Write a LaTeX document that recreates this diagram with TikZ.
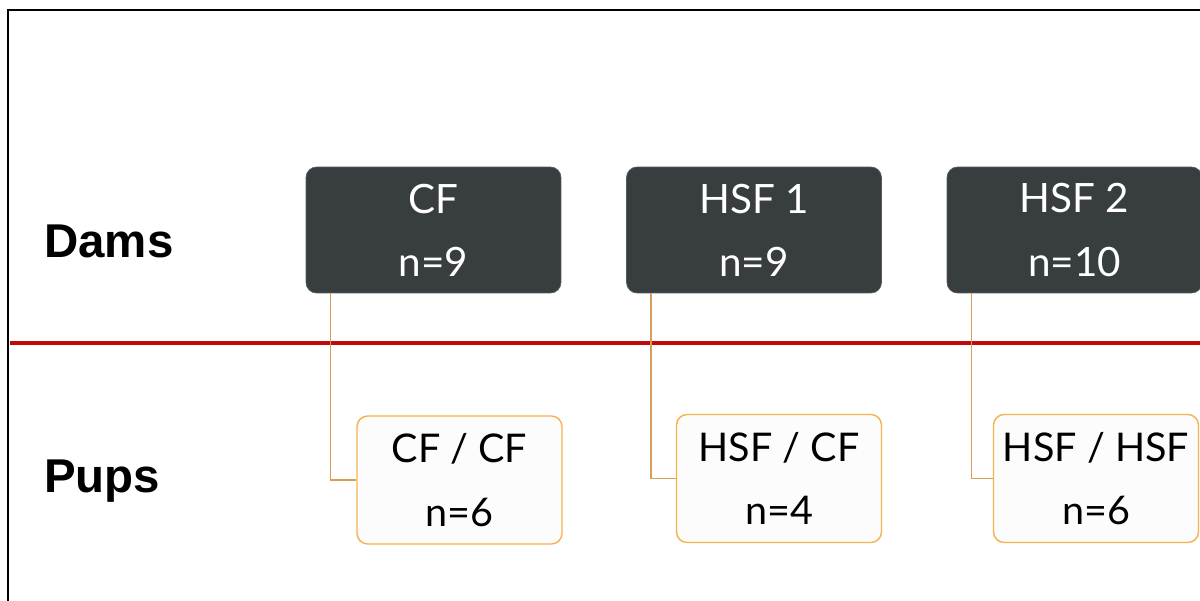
\documentclass[tikz,border=0pt]{standalone}
\usepackage{fontspec}
\setmainfont{Lato}
\newfontfamily\groupfont{Liberation Sans}
\usetikzlibrary{positioning}
\definecolor{damgray}{RGB}{56,61,63}
\definecolor{pupedge}{RGB}{245,178,78}
\definecolor{linkorange}{RGB}{214,158,88}
\definecolor{splitred}{RGB}{194,8,8}
\tikzset{
    dam/.style={
    rectangle,rounded corners=6pt,draw=damgray!85!white,fill=damgray,text=white,
    minimum width=5.1cm,minimum height=2.52cm,inner sep=0pt,align=center,
    font=\fontsize{23}{36}\selectfont
    },
    pup/.style={
    rectangle,rounded corners=6pt,draw=pupedge,fill=black!1,line width=0.8pt,
    minimum width=4.1cm,minimum height=2.56cm,inner sep=0pt,align=center,
    font=\fontsize{22.5}{36}\selectfont
    },
    group/.style={
    anchor=base west,inner sep=0pt,font=\groupfont\bfseries\fontsize{27}{32}\selectfont
    },
    link/.style={
    draw=linkorange,line width=0.85pt
    },
}

\begin{document}
\begin{tikzpicture}[x=0.02cm, y=-0.02cm]
   \useasboundingbox (0,0) rectangle (1200,601);
   \clip (0,0) rectangle (1200,601);
   \draw[line width=1.6pt] (8,700) |- (1300,10);

   %groups
   \node[group] (dams) at (44,257) {Dams};
   \node[group] (pups) at (44,492) {Pups};

   %dams
   \node[dam] (damcf) at (433.5,230) {CF\\n=9};
   \node[dam] (damhsfa) at (754,230) {HSF 1\\n=9};
   \node[dam] (damhsfb) at (1074.5,230) {HSF 2\\n=10};

   %pups
   \node[pup] (pupcf) at (459.5,480) {CF / CF\\n=6};
   \node[pup] (puphsfcf) at (779,478.5) {HSF / CF\\n=4};
   \node[pup] (puphsf) at (1096,478.5) {HSF / HSF\\n=6};

   %split
   \coordinate (splitl) at (10,343);
   \coordinate (splitr) at (1200,343);
   \draw[splitred, line width=0.09cm] (splitl) -- (splitr);

   %links
   \draw[link] (damcf.south west) ++(25,0) |- (pupcf.west);
   \draw[link] (damhsfa.south west) ++(25,0) |- (puphsfcf.west);
   \draw[link] (damhsfb.south west) ++(25,0) |- (puphsf.west);
\end{tikzpicture}
\end{document}
